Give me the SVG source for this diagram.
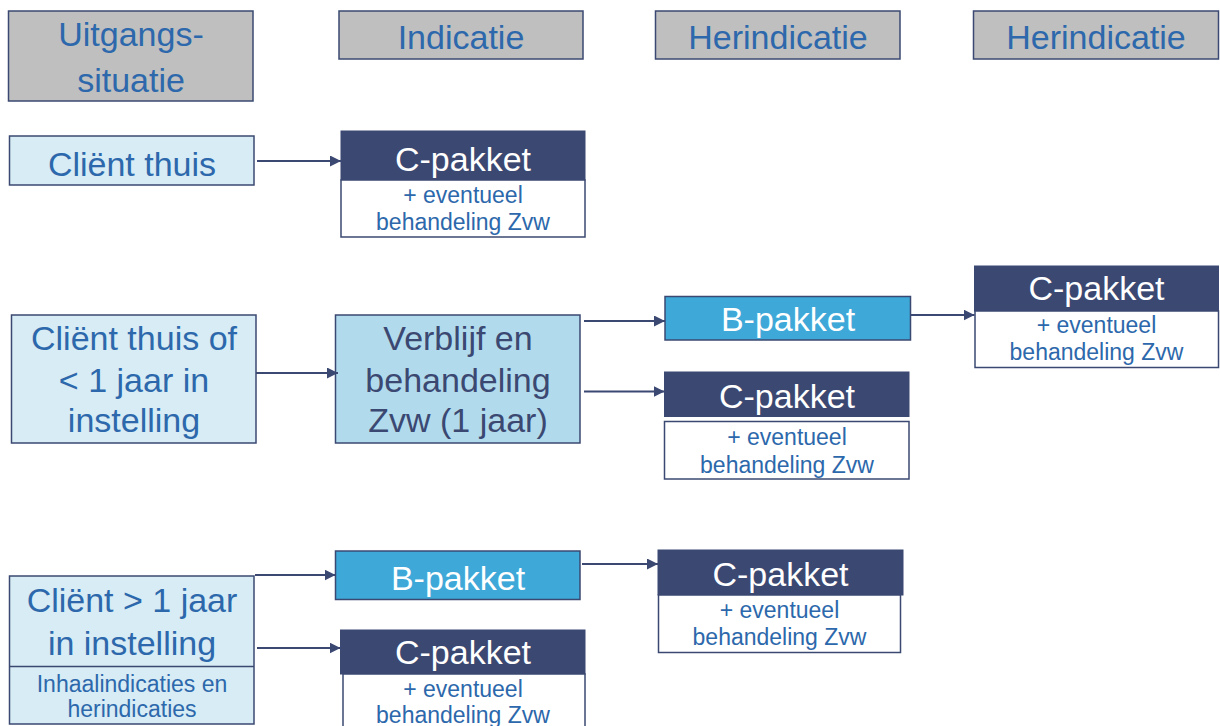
<svg xmlns="http://www.w3.org/2000/svg" width="1220" height="726" viewBox="0 0 1220 726">
<defs>
<marker id="ah" viewBox="0 0 11 11" refX="11" refY="5.5" markerWidth="11" markerHeight="11" markerUnits="userSpaceOnUse" orient="auto">
<path d="M0,0 L11,5.5 L0,11 Z" fill="#3b4872"/>
</marker>
<style>
text{font-family:"Liberation Sans",Arial,sans-serif;text-anchor:middle}
.hdr{fill:#bfbfbf;stroke:#3b4872;stroke-width:1.5}
.lb{fill:#d7ecf5;stroke:#3b4872;stroke-width:1.5}
.vb{fill:#b1dbec;stroke:#3b4872;stroke-width:1.5}
.bp{fill:#3ea8d8;stroke:#3b4872;stroke-width:1.5}
.cp{fill:#3b4872;stroke:#3b4872;stroke-width:1}
.wb{fill:#ffffff;stroke:#3b4872;stroke-width:1.5}
.big{font-size:34px;fill:#2c68ab}
.dk{font-size:34px;fill:#3b4872}
.wt{font-size:34px;fill:#ffffff}
.sm{font-size:23px;fill:#2c68ab}
.cn{fill:none;stroke:#3b4872;stroke-width:2;marker-end:url(#ah)}
</style>
</defs>
<rect width="1220" height="726" fill="#ffffff"/>

<g id="h-uitgangs"><rect class="hdr" x="8.5" y="11" width="244.5" height="90"/><text class="big" x="131" y="46">Uitgangs-</text><text class="big" x="131" y="91.5">situatie</text></g>
<g id="h-indicatie"><rect class="hdr" x="339" y="11" width="244" height="48"/><text class="big" x="461" y="49">Indicatie</text></g>
<g id="h-herindicatie1"><rect class="hdr" x="655.5" y="11" width="244.5" height="48"/><text class="big" x="778" y="49">Herindicatie</text></g>
<g id="h-herindicatie2"><rect class="hdr" x="973.5" y="11" width="245" height="48"/><text class="big" x="1096" y="49">Herindicatie</text></g>

<g id="n-client-thuis"><rect class="lb" x="9.5" y="136" width="244.5" height="49"/><text class="big" x="132" y="175.5">Cliënt thuis</text></g>
<g id="n-c1"><rect class="cp" x="341" y="131" width="244" height="49"/><text class="wt" x="463" y="170.5">C-pakket</text><rect class="wb" x="341" y="180" width="244" height="57"/><text class="sm" x="463" y="203">+ eventueel</text><text class="sm" x="463" y="230">behandeling Zvw</text></g>

<g id="n-client-thuis-of"><rect class="lb" x="11.5" y="315" width="244.5" height="128"/><text class="big" x="134" y="350">Cliënt thuis of</text><text class="big" x="134" y="391.5">&lt; 1 jaar in</text><text class="big" x="134" y="432">instelling</text></g>
<g id="n-verblijf"><rect class="vb" x="335.5" y="315" width="244.5" height="128"/><text class="dk" x="458" y="350">Verblijf en</text><text class="dk" x="458" y="391.5">behandeling</text><text class="dk" x="458" y="432">Zvw (1 jaar)</text></g>
<g id="n-b1"><rect class="bp" x="665" y="296.5" width="245.5" height="43.5"/><text class="wt" x="788" y="331">B-pakket</text></g>
<g id="n-c2"><rect class="cp" x="974.5" y="266" width="244" height="45"/><text class="wt" x="1096.5" y="300">C-pakket</text><rect class="wb" x="975" y="311" width="243.5" height="56.5"/><text class="sm" x="1096.5" y="333">+ eventueel</text><text class="sm" x="1096.5" y="360">behandeling Zvw</text></g>
<g id="n-c3"><rect class="cp" x="664.5" y="372" width="244.5" height="44.5"/><text class="wt" x="787" y="407.5">C-pakket</text><rect class="wb" x="664.5" y="421.5" width="244.5" height="57.5"/><text class="sm" x="787" y="445">+ eventueel</text><text class="sm" x="787" y="472.5">behandeling Zvw</text></g>

<g id="n-client-1jaar"><rect class="lb" x="9.5" y="576" width="244.5" height="148"/><line x1="9.5" y1="666.5" x2="254" y2="666.5" stroke="#3b4872" stroke-width="1.5"/><text class="big" x="132" y="611.5">Cliënt &gt; 1 jaar</text><text class="big" x="132" y="655">in instelling</text><text class="sm" x="132" y="691.5">Inhaalindicaties en</text><text class="sm" x="132" y="717">herindicaties</text></g>
<g id="n-b2"><rect class="bp" x="335.5" y="551" width="244.5" height="48.5"/><text class="wt" x="458" y="590">B-pakket</text></g>
<g id="n-c4"><rect class="cp" x="340.5" y="630" width="244.5" height="44"/><text class="wt" x="463" y="663.5">C-pakket</text><rect class="wb" x="343" y="674" width="242" height="60"/><text class="sm" x="463" y="696.5">+ eventueel</text><text class="sm" x="463" y="722.5">behandeling Zvw</text></g>
<g id="n-c5"><rect class="cp" x="658" y="550" width="245" height="45"/><text class="wt" x="780.5" y="586">C-pakket</text><rect class="wb" x="658.5" y="595" width="242" height="57.5"/><text class="sm" x="779.5" y="618">+ eventueel</text><text class="sm" x="779.5" y="645">behandeling Zvw</text></g>

<g id="connectors">
<line class="cn" x1="257" y1="161" x2="341" y2="161"/>
<line class="cn" x1="256" y1="373" x2="338" y2="373"/>
<line class="cn" x1="584" y1="321" x2="665" y2="321"/>
<line class="cn" x1="584" y1="391.5" x2="664.5" y2="391.5"/>
<line class="cn" x1="911" y1="315" x2="974.5" y2="315"/>
<line class="cn" x1="255" y1="575" x2="335.5" y2="575"/>
<line class="cn" x1="257" y1="648" x2="340.5" y2="648"/>
<line class="cn" x1="582" y1="564" x2="658" y2="564"/>
</g>
</svg>
